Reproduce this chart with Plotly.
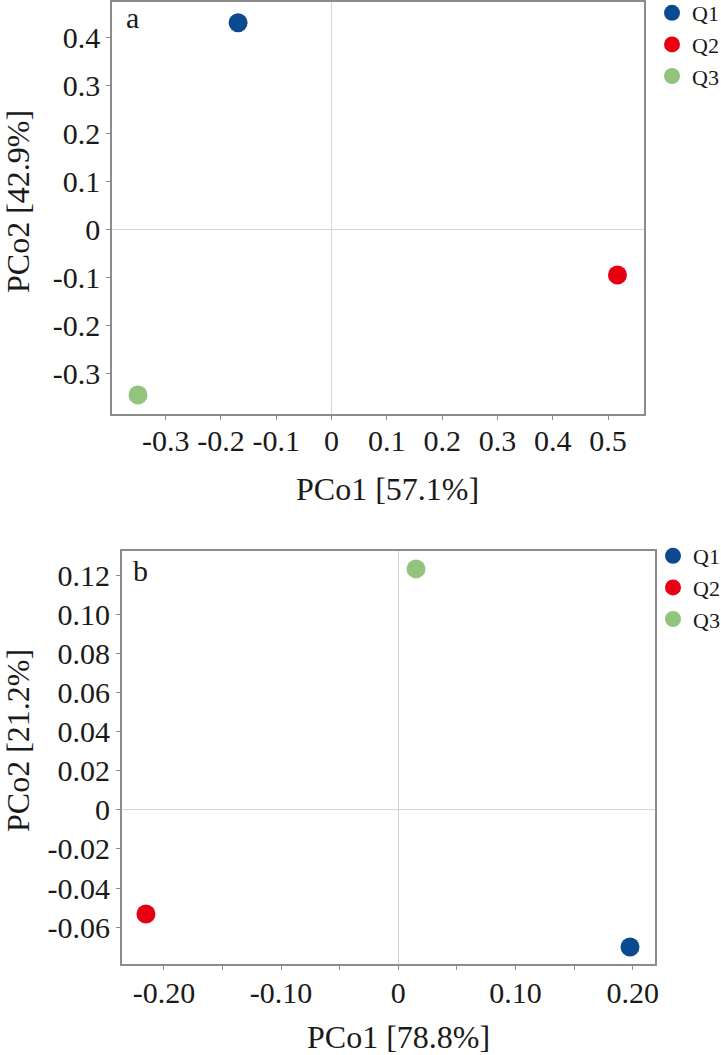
import plotly.graph_objects as go

W, H = 721, 1055

groups = ["Q1", "Q2", "Q3"]
colors = ["#0b4a8f", "#e60012", "#93c47d"]

# Panel a
a_x = [-0.169, 0.517, -0.350]
a_y = [0.431, -0.0954, -0.346]
a_xtitle = "PCo1 [57.1%]"
a_ytitle = "PCo2 [42.9%]"
a_xticks = [-0.3, -0.2, -0.1, 0, 0.1, 0.2, 0.3, 0.4, 0.5]
a_xticktext = ["-0.3", "-0.2", "-0.1", "0", "0.1", "0.2", "0.3", "0.4", "0.5"]
a_yticks = [-0.3, -0.2, -0.1, 0, 0.1, 0.2, 0.3, 0.4]
a_yticktext = ["-0.3", "-0.2", "-0.1", "0", "0.1", "0.2", "0.3", "0.4"]

# Panel b
b_x = [0.1977, -0.2153, 0.0151]
b_y = [-0.0702, -0.0533, 0.1232]
b_xtitle = "PCo1 [78.8%]"
b_ytitle = "PCo2 [21.2%]"
b_xticks = [-0.20, -0.15, -0.10, -0.05, 0, 0.05, 0.10, 0.15, 0.20]
b_xticktext = ["-0.20", "", "-0.10", "", "0", "", "0.10", "", "0.20"]
b_yticks = [-0.06, -0.04, -0.02, 0, 0.02, 0.04, 0.06, 0.08, 0.10, 0.12]
b_yticktext = ["-0.06", "-0.04", "-0.02", "0", "0.02", "0.04", "0.06", "0.08", "0.10", "0.12"]

FONT = "Liberation Serif, Times New Roman, serif"

def px(xp):
    return xp / W

def py(yp):
    return 1 - yp / H

fig = go.Figure()

for g, c, x, y in zip(groups, colors, a_x, a_y):
    fig.add_trace(go.Scatter(x=[x], y=[y], mode="markers", name=g,
                             marker=dict(color=c, size=19, line=dict(width=0)),
                             xaxis="x", yaxis="y", legend="legend"))
for g, c, x, y in zip(groups, colors, b_x, b_y):
    fig.add_trace(go.Scatter(x=[x], y=[y], mode="markers", name=g,
                             marker=dict(color=c, size=19, line=dict(width=0)),
                             xaxis="x2", yaxis="y2", legend="legend2"))

axis_common = dict(
    showgrid=False, zeroline=True, zerolinecolor="#d4d4d4", zerolinewidth=1,
    showline=True, linecolor="#8c8c8c", linewidth=1.5, mirror=True,
    ticks="outside", ticklen=4, tickcolor="#8c8c8c", tickwidth=1,
    tickfont=dict(family=FONT, size=30, color="#1a1a1a"),
    tickmode="array",
)

fig.update_layout(
    width=W, height=H,
    margin=dict(l=0, r=0, t=0, b=0, autoexpand=False),
    paper_bgcolor="white", plot_bgcolor="white",
    font=dict(family=FONT, color="#1a1a1a"),
    xaxis=dict(axis_common, domain=[px(112), px(644)], range=[-0.397, 0.565],
               tickvals=a_xticks, ticktext=a_xticktext, anchor="y",
               ticklabelstandoff=-5),
    yaxis=dict(axis_common, domain=[py(414), py(2)], range=[-0.3856, 0.4745],
               tickvals=a_yticks, ticktext=a_yticktext, anchor="x",
               ticklabelstandoff=0),
    xaxis2=dict(axis_common, domain=[px(121.7), px(655)], range=[-0.236, 0.219],
                tickvals=b_xticks, ticktext=b_xticktext, anchor="y2",
                ticklabelstandoff=-3),
    yaxis2=dict(axis_common, domain=[py(964.3), py(550.7)], range=[-0.079, 0.1325],
                tickvals=b_yticks, ticktext=b_yticktext, anchor="x2",
                ticklabelstandoff=0),
    legend=dict(x=px(652), y=py(-8), xanchor="left", yanchor="top",
                font=dict(family=FONT, size=22, color="#1a1a1a"),
                bgcolor="rgba(0,0,0,0)", tracegroupgap=0),
    legend2=dict(x=px(653), y=py(535), xanchor="left", yanchor="top",
                 font=dict(family=FONT, size=22, color="#1a1a1a"),
                 bgcolor="rgba(0,0,0,0)", tracegroupgap=0),
)

ann_font = dict(family=FONT, size=32, color="#1a1a1a")
fig.add_annotation(text=a_xtitle, x=px(387), y=py(489), xref="paper", yref="paper",
                   xanchor="center", yanchor="middle", showarrow=False, font=ann_font)
fig.add_annotation(text=a_ytitle, x=px(18), y=py(202), xref="paper", yref="paper",
                   xanchor="center", yanchor="middle", showarrow=False, font=ann_font,
                   textangle=-90)
fig.add_annotation(text=b_xtitle, x=px(398), y=py(1037), xref="paper", yref="paper",
                   xanchor="center", yanchor="middle", showarrow=False, font=ann_font)
fig.add_annotation(text=b_ytitle, x=px(18), y=py(741), xref="paper", yref="paper",
                   xanchor="center", yanchor="middle", showarrow=False, font=ann_font,
                   textangle=-90)
fig.add_annotation(text="a", x=px(124), y=py(18), xref="paper", yref="paper",
                   xanchor="left", yanchor="middle", showarrow=False,
                   font=dict(family=FONT, size=30, color="#1a1a1a"))
fig.add_annotation(text="b", x=px(131), y=py(570), xref="paper", yref="paper",
                   xanchor="left", yanchor="middle", showarrow=False,
                   font=dict(family=FONT, size=30, color="#1a1a1a"))

fig.write_html("out.html", config={"displayModeBar": False},
               post_script="document.body.style.margin='0';")
